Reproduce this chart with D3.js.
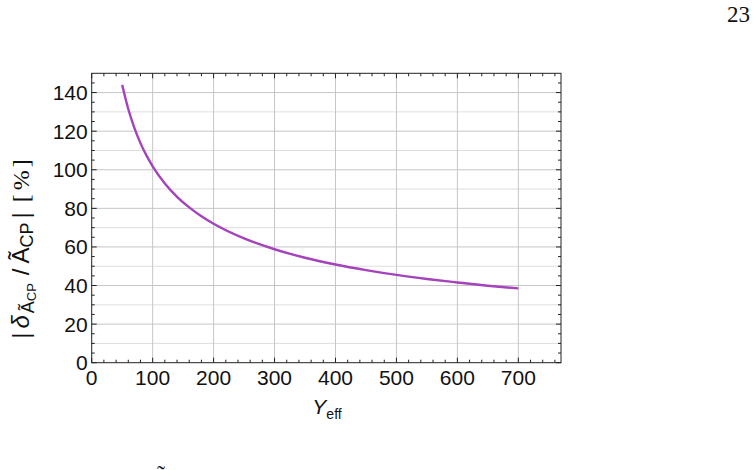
<!doctype html>
<html>
<head>
<style>
  body { margin: 0; background: #fff; }
  text { font-family: "Liberation Sans", Arial, sans-serif; fill: #111; }
</style>
<script src="https://d3js.org/d3.v7.min.js"></script>
</head>
<body>
<svg width="756" height="470"></svg>
<script>
// values
var yeff = [50, 60, 70, 80, 90, 100, 120, 140, 160, 180, 200, 250, 300, 350, 400, 450, 500, 550, 600, 650, 700];
var ratio = [144, 131.5, 121.7, 113.8, 107.3, 101.8, 92.9, 86.0, 80.5, 75.9, 72.0, 64.4, 58.8, 54.4, 50.9, 48.0, 45.5, 43.4, 41.6, 39.9, 38.5];
var xTicks = [0, 100, 200, 300, 400, 500, 600, 700];
var yTicks = [0, 20, 40, 60, 80, 100, 120, 140];

var svg = d3.select("svg");
var pLeft = 91.7, pRight = 561, pTop = 73.3, pBottom = 362.7;

var x = d3.scaleLinear().domain([0, 770]).range([pLeft, pRight]);
var y = d3.scaleLinear().domain([0, 150]).range([pBottom, pTop]);

// grid
var grid = svg.append("g");
grid.selectAll(".hg")
  .data(d3.range(10, 150, 10))
  .enter().append("line")
  .attr("x1", pLeft).attr("x2", pRight)
  .attr("y1", function(d) { return y(d); })
  .attr("y2", function(d) { return y(d); })
  .attr("stroke", function(d) { return d % 20 == 0 ? "#c6c6c6" : "#dedede"; })
  .attr("stroke-width", 1);
grid.selectAll(".vg")
  .data(xTicks.slice(1))
  .enter().append("line")
  .attr("y1", pTop).attr("y2", pBottom)
  .attr("x1", function(d) { return x(d); })
  .attr("x2", function(d) { return x(d); })
  .attr("stroke", "#c6c6c6")
  .attr("stroke-width", 1);

// curve
var line = d3.line()
  .x(function(d, i) { return x(yeff[i]); })
  .y(function(d) { return y(d); })
  .curve(d3.curveMonotoneX);
svg.append("path")
  .datum(ratio)
  .attr("d", line)
  .attr("fill", "none")
  .attr("stroke", "#a443bb")
  .attr("stroke-width", 2.4);

// frame and ticks (inward, mirrored)
svg.append("rect")
  .attr("x", pLeft).attr("y", pTop)
  .attr("width", pRight - pLeft).attr("height", pBottom - pTop)
  .attr("fill", "none").attr("stroke", "#222").attr("stroke-width", 1);

var ticks = svg.append("g").attr("stroke", "#222").attr("stroke-width", 1);
d3.range(0, 770, 20).forEach(function(v) {
  var len = v % 100 == 0 ? 5 : 3;
  ticks.append("line").attr("x1", x(v)).attr("x2", x(v)).attr("y1", pBottom).attr("y2", pBottom - len);
  ticks.append("line").attr("x1", x(v)).attr("x2", x(v)).attr("y1", pTop).attr("y2", pTop + len);
});
d3.range(0, 150, 5).forEach(function(v) {
  var len = v % 20 == 0 ? 5 : 3;
  ticks.append("line").attr("y1", y(v)).attr("y2", y(v)).attr("x1", pLeft).attr("x2", pLeft + len);
  ticks.append("line").attr("y1", y(v)).attr("y2", y(v)).attr("x1", pRight).attr("x2", pRight - len);
});

// tick labels
svg.selectAll(".xl")
  .data(xTicks)
  .enter().append("text")
  .attr("x", function(d) { return x(d); })
  .attr("y", pBottom + 22)
  .attr("text-anchor", "middle")
  .attr("font-size", "21px")
  .text(function(d) { return d; });
svg.selectAll(".yl")
  .data(yTicks)
  .enter().append("text")
  .attr("x", pLeft - 4)
  .attr("y", function(d) { return y(d) + 7.5; })
  .attr("text-anchor", "end")
  .attr("font-size", "21px")
  .text(function(d) { return d; });

// axis labels
var xl = svg.append("text")
  .attr("x", 327).attr("y", 414)
  .attr("text-anchor", "middle")
  .attr("font-size", "21px");
xl.append("tspan").attr("font-style", "italic").text("Y");
xl.append("tspan").attr("font-size", "14px").attr("dy", 5).text("eff");

var yl = svg.append("text")
  .attr("transform", "translate(29,249) rotate(-90)")
  .attr("text-anchor", "middle")
  .attr("font-size", "24px");
yl.append("tspan").text("|");
yl.append("tspan").attr("dx", 4).attr("font-style", "italic").text("δ");
yl.append("tspan").attr("dx", 2).attr("font-size", "18px").attr("dy", 5).text("Ã");
yl.append("tspan").attr("font-size", "13px").attr("dy", 2).text("CP");
yl.append("tspan").attr("dx", 8).attr("dy", -7).text("/");
yl.append("tspan").attr("dx", 5).text("Ã");
yl.append("tspan").attr("font-size", "18px").attr("dy", 4).text("CP");
yl.append("tspan").attr("dx", 4).attr("dy", -4).text("|");
var pct = yl.append("tspan").attr("dx", 10).style("font-family", "'Liberation Serif', serif");
pct.append("tspan").text("[");
pct.append("tspan").attr("dx", 4).text("%");
pct.append("tspan").attr("dx", 3).text("]");

// page number and clipped next line
svg.append("text")
  .attr("x", 750).attr("y", 22)
  .attr("text-anchor", "end")
  .style("font-family", "'Liberation Serif', serif")
  .attr("font-size", "23px")
  .text("23");
svg.append("text")
  .attr("x", 161).attr("y", 482)
  .attr("text-anchor", "middle")
  .style("font-family", "'Liberation Serif', serif")
  .attr("font-size", "24px")
  .text("˜");
</script>
</body>
</html>
